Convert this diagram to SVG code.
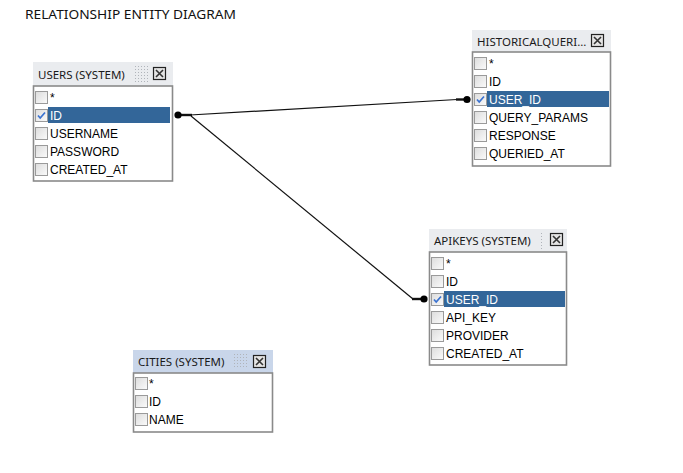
<svg xmlns="http://www.w3.org/2000/svg" width="683" height="473" viewBox="0 0 683 473">
<defs>
<pattern id="grip" width="3" height="3" patternUnits="userSpaceOnUse"><rect x="0" y="0" width="1" height="1" fill="#b0b4ba"/></pattern>
<linearGradient id="cb" x1="0" y1="0" x2="1" y2="1"><stop offset="0" stop-color="#dcdcdc"/><stop offset="1" stop-color="#fbfbfb"/></linearGradient>
<g id="chk"><rect x="0.5" y="0.5" width="12" height="12" fill="url(#cb)" stroke="#9a9a9a" stroke-width="1"/></g>
<g id="tick"><path d="M3,6.5 L5.2,9 L10,3.5" fill="none" stroke="#3a72d0" stroke-width="1.7"/></g>
<g id="close"><rect x="0.5" y="0.5" width="12" height="12" fill="#e4e4e4" stroke="#222" stroke-width="1.2"/><path d="M3,3 L10,10 M10,3 L3,10" stroke="#333" stroke-width="1.6"/></g>
</defs>
<style>
.title{font-family:"Noto Sans","Open Sans",sans-serif;font-size:13px;fill:#111}
.hdr{font-family:"Noto Sans","Open Sans",sans-serif;font-size:11.5px;fill:#1a1a1a}
.row{font-family:"Liberation Sans",Arial,sans-serif;font-size:12px;fill:#000}
.sel{font-family:"Liberation Sans",Arial,sans-serif;font-size:12px;fill:#fff}
.hbg{fill:#eaecef}
.hbgb{fill:#c9d6ea}
.body{fill:#fff;stroke:#8a8a8a;stroke-width:1.6}
.hl{fill:#336699}
.ln{fill:none;stroke:#111;stroke-width:1.2}
.lnb{fill:none;stroke:#111;stroke-width:2.4}
</style>
<rect width="683" height="473" fill="#fff"/>
<text class="title" x="25" y="19" textLength="211" lengthAdjust="spacingAndGlyphs">RELATIONSHIP ENTITY DIAGRAM</text>

<g id="connectors">
<path class="ln" d="M190,115 L457,99.5"/>
<path class="lnb" d="M178,115 H192"/>
<path class="lnb" d="M456,99.5 H467"/>
<circle cx="178" cy="115" r="3.6" fill="#000"/>
<circle cx="467" cy="99.5" r="3.6" fill="#000"/>
<path class="ln" d="M191,116 L413,299"/>
<path class="lnb" d="M412,299 H424"/>
<circle cx="424" cy="299" r="3.6" fill="#000"/>
</g>

<g id="users">
<rect class="hbg" x="33" y="62" width="140" height="24"/>
<rect x="135" y="66" width="15" height="16" fill="url(#grip)"/>
<use href="#close" x="153" y="67"/>
<text class="hdr" x="38" y="79">USERS (SYSTEM)</text>
<rect class="body" x="33.5" y="86" width="139" height="95"/>
<rect class="hl" x="48" y="107" width="122" height="16"/>
<use href="#chk" x="35" y="91"/><text class="row" x="50" y="102">*</text>
<use href="#chk" x="35" y="109"/><use href="#tick" x="35" y="109"/><text class="sel" x="50" y="120">ID</text>
<use href="#chk" x="35" y="127"/><text class="row" x="50" y="138">USERNAME</text>
<use href="#chk" x="35" y="145"/><text class="row" x="50" y="156">PASSWORD</text>
<use href="#chk" x="35" y="163"/><text class="row" x="50" y="174">CREATED_AT</text>
</g>

<g id="historicalqueries">
<rect class="hbg" x="472" y="30" width="139" height="22"/>
<use href="#close" x="591" y="34"/>
<text class="hdr" x="477" y="46">HISTORICALQUERI...</text>
<rect class="body" x="472.5" y="52" width="138" height="114"/>
<rect class="hl" x="487" y="91" width="122" height="16"/>
<use href="#chk" x="474" y="57"/><text class="row" x="489" y="68">*</text>
<use href="#chk" x="474" y="75"/><text class="row" x="489" y="86">ID</text>
<use href="#chk" x="474" y="93"/><use href="#tick" x="474" y="93"/><text class="sel" x="489" y="104">USER_ID</text>
<use href="#chk" x="474" y="111"/><text class="row" x="489" y="122">QUERY_PARAMS</text>
<use href="#chk" x="474" y="129"/><text class="row" x="489" y="140">RESPONSE</text>
<use href="#chk" x="474" y="147"/><text class="row" x="489" y="158">QUERIED_AT</text>
</g>

<g id="apikeys">
<rect class="hbg" x="429" y="229" width="138" height="23"/>
<line x1="541.5" y1="233" x2="541.5" y2="249" stroke="#b0b4ba" stroke-dasharray="1,2"/>
<use href="#close" x="550" y="233"/>
<text class="hdr" x="434" y="245">APIKEYS (SYSTEM)</text>
<rect class="body" x="429.5" y="252" width="137" height="113"/>
<rect class="hl" x="444" y="291" width="121" height="16"/>
<use href="#chk" x="431" y="257"/><text class="row" x="446" y="268">*</text>
<use href="#chk" x="431" y="275"/><text class="row" x="446" y="286">ID</text>
<use href="#chk" x="431" y="293"/><use href="#tick" x="431" y="293"/><text class="sel" x="446" y="304">USER_ID</text>
<use href="#chk" x="431" y="311"/><text class="row" x="446" y="322">API_KEY</text>
<use href="#chk" x="431" y="329"/><text class="row" x="446" y="340">PROVIDER</text>
<use href="#chk" x="431" y="347"/><text class="row" x="446" y="358">CREATED_AT</text>
</g>

<g id="cities">
<rect class="hbgb" x="133" y="350" width="140" height="23"/>
<rect x="234" y="353" width="15" height="16" fill="url(#grip)"/>
<use href="#close" x="253" y="355"/>
<text class="hdr" x="138" y="366">CITIES (SYSTEM)</text>
<rect class="body" x="133.5" y="373" width="139" height="59"/>
<use href="#chk" x="135" y="377"/><text class="row" x="149" y="388">*</text>
<use href="#chk" x="135" y="395"/><text class="row" x="149" y="406">ID</text>
<use href="#chk" x="135" y="413"/><text class="row" x="149" y="424">NAME</text>
</g>
</svg>
